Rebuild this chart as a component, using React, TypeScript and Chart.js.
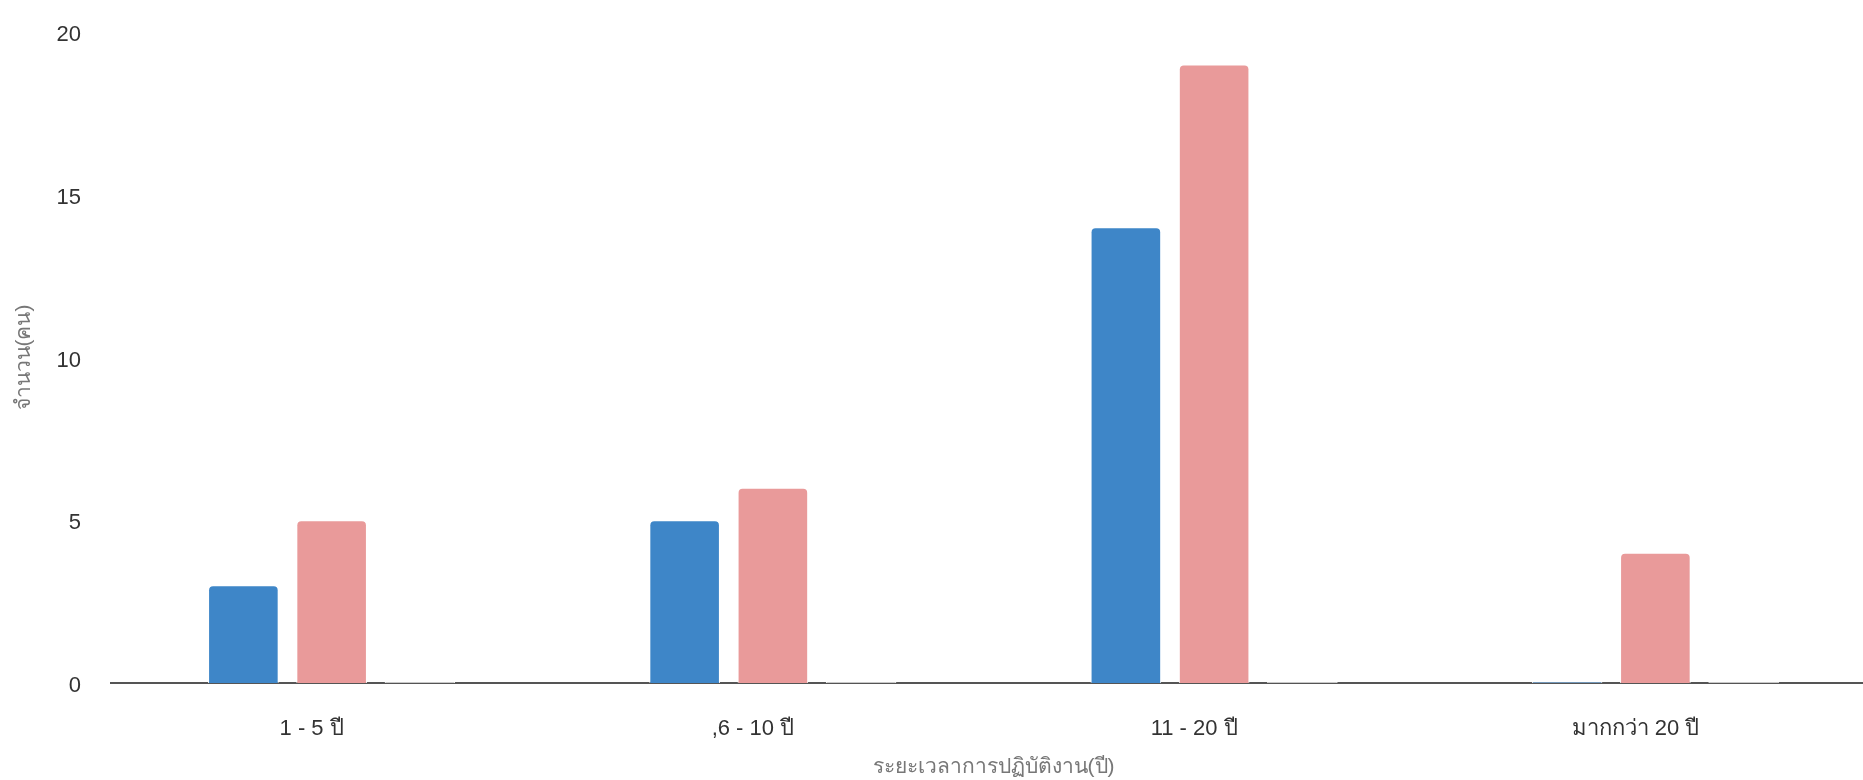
import React, { useEffect, useRef } from "react";
import { Chart, registerables } from "chart.js";

Chart.register(...registerables);

const categories = ["1 - 5 ปี", ",6 - 10 ปี", "11 - 20 ปี", "มากกว่า 20 ปี"];
const seriesBlue = [3, 5, 14, 0];
const seriesPink = [5, 6, 19, 4];
const seriesThird = [0, 0, 0, 0];
const yTitle = "จำนวน(คน)";
const xTitle = "ระยะเวลาการปฏิบัติงาน(ปี)";

const FONT = "'Liberation Sans', Arial, 'Noto Sans', sans-serif";

export default function App() {
  const ref = useRef<HTMLCanvasElement | null>(null);

  useEffect(() => {
    if (!ref.current) return;
    const common = {
      borderColor: "#ffffff",
      borderWidth: 1,
      borderRadius: 5,
      borderSkipped: "start" as const,
      minBarLength: 1,
      barPercentage: 0.8,
      categoryPercentage: 0.6,
    };
    const chart = new Chart(ref.current, {
      type: "bar",
      data: {
        labels: categories,
        datasets: [
          { label: "A", data: seriesBlue, backgroundColor: "#3E86C8", ...common },
          { label: "B", data: seriesPink, backgroundColor: "#E99A9A", ...common },
          { label: "C", data: seriesThird, backgroundColor: "#e6e6e6", ...common },
        ],
      },
      options: {
        responsive: false,
        animation: false,
        layout: { padding: { top: 0, left: 0, right: 0, bottom: 0 } },
        plugins: { legend: { display: false }, tooltip: { enabled: false } },
        scales: {
          x: {
            grid: { display: false, drawTicks: false },
            border: { display: true, color: "#555555", width: 2 },
            ticks: {
              color: "#333333",
              padding: 33,
              labelOffset: -20,
              font: { family: FONT, size: 22 },
              maxRotation: 0,
            },
            title: {
              display: true,
              text: xTitle,
              color: "#777777",
              font: { family: FONT, size: 21 },
              padding: { top: 0, bottom: 0 },
            },
            afterFit: (s: any) => {
              s.height = 97;
            },
          },
          y: {
            min: 0,
            max: 20,
            grid: { display: false, drawTicks: false },
            border: { display: false },
            ticks: {
              stepSize: 5,
              color: "#333333",
              padding: 30,
              labelOffset: 3,
              font: { family: FONT, size: 22 },
            },
            title: {
              display: true,
              text: yTitle,
              color: "#777777",
              font: { family: FONT, size: 21 },
              padding: { top: 12, bottom: 0 },
            },
            afterFit: (s: any) => {
              s.width = 111;
              s.paddingTop = 32;
              s.paddingBottom = 0;
            },
          },
        },
      },
    });
    return () => chart.destroy();
  }, []);

  return (
    <div
      style={{
        position: "absolute",
        left: 0,
        top: 0,
        width: 1863,
        height: 780,
        overflow: "hidden",
        background: "#ffffff",
      }}
    >
      <canvas ref={ref} width={1876} height={780} style={{ display: "block" }} />
    </div>
  );
}
